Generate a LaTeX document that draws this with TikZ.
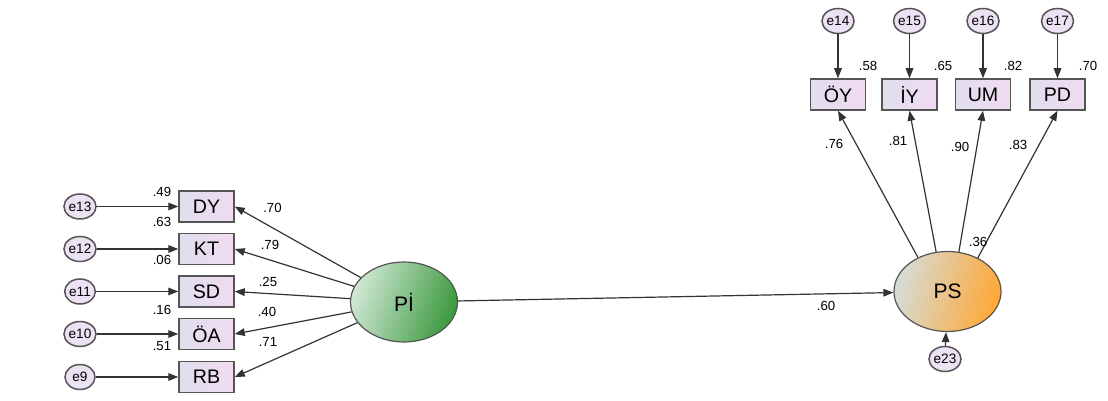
\documentclass[tikz,border=0pt]{standalone}
\usepackage{fontspec}
\setmainfont{Liberation Sans}
\usetikzlibrary{shapes.geometric,arrows.meta}
\definecolor{linegray}{HTML}{555555}
\definecolor{arrowgray}{HTML}{333333}
\definecolor{boxleft}{HTML}{E0DEEE}
\definecolor{boxright}{HTML}{F1DBF1}
\definecolor{errfill}{HTML}{EDE2F3}
\definecolor{pileft}{HTML}{CFE7D3}
\definecolor{piright}{HTML}{3C9A3E}
\definecolor{psleft}{HTML}{D6DCD6}
\definecolor{psright}{HTML}{FFA836}

\begin{document}
\begin{tikzpicture}[x=0.5pt,y=-0.5pt,
  obs/.style={rectangle,draw=linegray,line width=0.75pt,left color=boxleft,right color=boxright,
    minimum width=27.5pt,minimum height=15.5pt,inner sep=0pt,font=\fontsize{9.8}{11}\selectfont},
  err/.style={ellipse,draw=linegray,line width=0.75pt,fill=errfill,
    minimum width=15pt,minimum height=12.5pt,inner sep=0pt,font=\fontsize{6.8}{7}\selectfont},
  lat/.style={ellipse,draw=linegray,line width=0.6pt,minimum width=53.5pt,minimum height=40pt,
    inner sep=0pt,font=\fontsize{10.5}{12}\selectfont},
  arr/.style={draw=arrowgray,line width=0.6pt,-{Triangle[length=5pt,width=3.8pt]}},
  coef/.style={inner sep=0pt,font=\fontsize{6.6}{7}\selectfont}]
 \useasboundingbox (0,0) rectangle (1108,401);

 % latent variables
 \node[lat,left color=pileft,right color=piright,shading angle=70] (pi) at (404,302) {Pİ};
 \node[lat,left color=psleft,right color=psright,shading angle=75] (ps) at (947.5,291.5) {PS};
 \node[err] (e23) at (945,359) {e23};

 % left indicators
 \foreach \name/\lab/\e/\y in {dy/DY/13/206.5, kt/KT/12/249, sd/SD/11/291.5, oa/ÖA/10/334, rb/RB/9/377}{
  \node[obs] (\name) at (206.5,\y) {\lab};
  \node[err] (e\e) at (80,\y) {e\e};
  \draw[arr] (e\e) -- (\name);
  \draw[arr] (pi) -- (\name.east);
 }

 % right indicators
 \foreach \name/\lab/\e/\x in {oy/ÖY/14/838, iy/İY/15/909.5, um/UM/16/983, pd/PD/17/1057.5}{
  \node[obs] (\name) at (\x,94.5) {\lab};
  \node[err] (e\e) at (\x,21) {e\e};
  \draw[arr] (e\e) -- (\name);
 }
 \draw[arr] (ps.131) -- (oy.south);
 \draw[arr] (ps.106) -- (iy.south);
 \draw[arr] (ps.74) -- (um.south);
 \draw[arr] (ps.48) -- (pd.south);
 \draw[arr] (pi) -- (ps);
 \draw[arr] (e23) -- (ps);

 % estimates
 \node[coef] (r1) at (162,192) {.49};
 \node[coef] (r2) at (162,222) {.63};
 \node[coef] (r3) at (162,260) {.06};
 \node[coef] (r4) at (162,310) {.16};
 \node[coef] (r5) at (162,346) {.51};
 \node[coef] (l1) at (272.5,208) {.70};
 \node[coef] (l2) at (270,245) {.79};
 \node[coef] (l3) at (268,282) {.25};
 \node[coef] (l4) at (267,312) {.40};
 \node[coef] (l5) at (268,342) {.71};
 \node[coef] (r6) at (868,66) {.58};
 \node[coef] (r7) at (943,66) {.65};
 \node[coef] (r8) at (1013,66) {.82};
 \node[coef] (r9) at (1088,66) {.70};
 \node[coef] (l6) at (834,144) {.76};
 \node[coef] (l7) at (898,141) {.81};
 \node[coef] (l8) at (960,147) {.90};
 \node[coef] (l9) at (1018,145) {.83};
 \node[coef] (r10) at (978,242) {.36};
 \node[coef] (b1) at (826,306) {.60};
\end{tikzpicture}
\end{document}
